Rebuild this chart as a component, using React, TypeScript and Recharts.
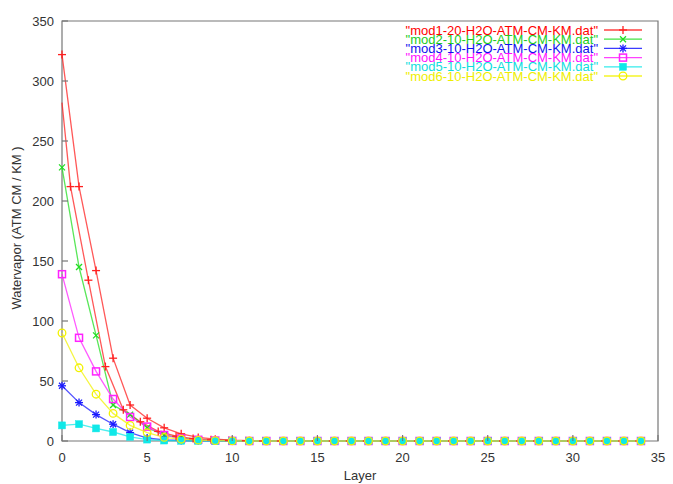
import React from 'react';
import { LineChart, Line, XAxis, YAxis, ReferenceArea, Legend } from 'recharts';

// Layer index (x) shared by most files
const layers = [
  0, 1, 2, 3, 4, 5, 6, 7, 8, 9, 10, 11, 12, 13, 14, 15, 16, 17,
  18, 19, 20, 21, 22, 23, 24, 25, 26, 27, 28, 29, 30, 31, 32, 33, 34,
];

// Water vapour per layer (ATM CM / KM)
const mod1 = [322, 212, 142, 69, 30, 19, 11, 6, 3, 1.5, 0.7, 0.3, 0.1, 0, 0, 0, 0, 0, 0, 0, 0, 0, 0, 0, 0, 0, 0, 0, 0, 0, 0, 0, 0, 0, 0];
const mod2 = [228, 145, 88, 30, 22, 11, 5, 2.5, 1, 0.5, 0.2, 0, 0, 0, 0, 0, 0, 0, 0, 0, 0, 0, 0, 0, 0, 0, 0, 0, 0, 0, 0, 0, 0, 0, 0];
const mod3 = [46, 32, 22, 14, 7, 2.5, 1, 0.4, 0.2, 0.1, 0, 0, 0, 0, 0, 0, 0, 0, 0, 0, 0, 0, 0, 0, 0, 0, 0, 0, 0, 0, 0, 0, 0, 0, 0];
const mod4 = [139, 86, 58, 35, 20, 12, 5, 2, 1, 0.4, 0.1, 0, 0, 0, 0, 0, 0, 0, 0, 0, 0, 0, 0, 0, 0, 0, 0, 0, 0, 0, 0, 0, 0, 0, 0];
const mod5 = [13, 14, 10.5, 7.5, 3.5, 1.2, 0.4, 0.2, 0.1, 0, 0, 0, 0, 0, 0, 0, 0, 0, 0, 0, 0, 0, 0, 0, 0, 0, 0, 0, 0, 0, 0, 0, 0, 0, 0];
const mod6 = [90, 61, 39, 23, 13, 7, 3, 1.5, 0.7, 0.3, 0.1, 0, 0, 0, 0, 0, 0, 0, 0, 0, 0, 0, 0, 0, 0, 0, 0, 0, 0, 0, 0, 0, 0, 0, 0];

// Second mod1 trace, sampled at shifted layer positions
const mod1bLayers = [
  0, 0.5, 1.55, 2.55, 3.6, 4.6, 5.65, 6.7, 7.7, 8.75, 9.8, 10.8, 11.8, 12.85, 13.9, 14.9, 15.9,
  16.9, 17.9, 18.9, 19.9, 20.9, 21.9, 22.9, 23.9, 24.9, 25.9, 26.9, 27.9, 28.9, 29.9, 30.9, 31.9, 32.9, 33.9,
];
const mod1b = [282, 212, 134, 62, 26, 16, 8, 4, 2, 1, 0.4, 0.2, 0, 0, 0, 0, 0, 0, 0, 0, 0, 0, 0, 0, 0, 0, 0, 0, 0, 0, 0, 0, 0, 0, 0];

const xTicks = [0, 5, 10, 15, 20, 25, 30, 35];
const yTicks = [0, 50, 100, 150, 200, 250, 300, 350];

const FONT = '"Liberation Sans", Arial, Helvetica, sans-serif';
const TICK_GAP_Y = 8;
const TICK_GAP_X = 16;
const AXIS_GREY = '#777';

type Shape = 'plus' | 'cross' | 'star' | 'box' | 'fbox' | 'circle';

const toPoints = (xs: number[], ys: number[]) => xs.map((x, i) => ({ x, y: ys[i] }));

type Series = {
  key: string;
  name: string;
  color: string;
  text: string;
  shape: Shape;
  data: { x: number; y: number }[];
  inLegend: boolean;
  skipFirstDot?: boolean;
};

const series: Series[] = [
  { key: 'mod1b', name: '"mod1-20-H2O-ATM-CM-KM.dat"', color: '#ff2020', text: '#ff0000', shape: 'plus', data: toPoints(mod1bLayers, mod1b), inLegend: false, skipFirstDot: true },
  { key: 'mod1', name: '"mod1-20-H2O-ATM-CM-KM.dat"', color: '#ff2020', text: '#ff0000', shape: 'plus', data: toPoints(layers, mod1), inLegend: true },
  { key: 'mod2', name: '"mod2-10-H2O-ATM-CM-KM.dat"', color: '#22dd22', text: '#22cc22', shape: 'cross', data: toPoints(layers, mod2), inLegend: true },
  { key: 'mod3', name: '"mod3-10-H2O-ATM-CM-KM.dat"', color: '#1a1aff', text: '#1010ee', shape: 'star', data: toPoints(layers, mod3), inLegend: true },
  { key: 'mod4', name: '"mod4-10-H2O-ATM-CM-KM.dat"', color: '#ff22ff', text: '#ff10ff', shape: 'box', data: toPoints(layers, mod4), inLegend: true },
  { key: 'mod5', name: '"mod5-10-H2O-ATM-CM-KM.dat"', color: '#10e8e8', text: '#10dddd', shape: 'fbox', data: toPoints(layers, mod5), inLegend: true },
  { key: 'mod6', name: '"mod6-10-H2O-ATM-CM-KM.dat"', color: '#f2f200', text: '#eeee00', shape: 'circle', data: toPoints(layers, mod6), inLegend: true },
];

function Marker({ cx, cy, shape, color }: { cx: number; cy: number; shape: Shape; color: string }) {
  if (cx == null || cy == null || isNaN(cx) || isNaN(cy)) return null;
  const sw = 1.3;
  switch (shape) {
    case 'plus':
      return (
        <g stroke={color} strokeWidth={sw}>
          <line x1={cx - 4} x2={cx + 4} y1={cy} y2={cy} />
          <line x1={cx} x2={cx} y1={cy - 4} y2={cy + 4} />
        </g>
      );
    case 'cross':
      return (
        <g stroke={color} strokeWidth={sw}>
          <line x1={cx - 3} x2={cx + 3} y1={cy - 3} y2={cy + 3} />
          <line x1={cx - 3} x2={cx + 3} y1={cy + 3} y2={cy - 3} />
        </g>
      );
    case 'star':
      return (
        <g stroke={color} strokeWidth={sw}>
          <line x1={cx - 4} x2={cx + 4} y1={cy} y2={cy} />
          <line x1={cx} x2={cx} y1={cy - 4} y2={cy + 4} />
          <line x1={cx - 3} x2={cx + 3} y1={cy - 3} y2={cy + 3} />
          <line x1={cx - 3} x2={cx + 3} y1={cy + 3} y2={cy - 3} />
        </g>
      );
    case 'box':
      return <rect x={cx - 3.5} y={cy - 3.5} width={7} height={7} fill="none" stroke={color} strokeWidth={1.5} />;
    case 'fbox':
      return <rect x={cx - 3.5} y={cy - 3.5} width={7} height={7} fill={color} stroke={color} strokeWidth={0.5} />;
    case 'circle':
      return <circle cx={cx} cy={cy} r={3.8} fill="none" stroke={color} strokeWidth={1.3} />;
  }
  return null;
}

function LeftTick(props: any) {
  const { x, y, payload } = props;
  const axisX = x + TICK_GAP_Y;
  return (
    <g>
      <line x1={axisX} x2={axisX + 6} y1={y} y2={y} stroke={AXIS_GREY} strokeWidth={1.2} />
      <text x={x} y={y} textAnchor="end" dominantBaseline="central" fontSize={13} fontFamily={FONT} fill="#333">
        {payload.value}
      </text>
    </g>
  );
}

function BottomTick(props: any) {
  const { x, y, payload } = props;
  const axisY = y - TICK_GAP_X;
  return (
    <g>
      <line x1={x} x2={x} y1={axisY} y2={axisY - 6} stroke={AXIS_GREY} strokeWidth={1.2} />
      <text x={x} y={y} textAnchor="middle" dominantBaseline="central" fontSize={13} fontFamily={FONT} fill="#333">
        {payload.value}
      </text>
    </g>
  );
}

function TopTick(props: any) {
  const { x, y } = props;
  return <line x1={x} x2={x} y1={y} y2={y + 6} stroke={AXIS_GREY} strokeWidth={1.2} />;
}

function RightTick(props: any) {
  const { x, y } = props;
  return <line x1={x} x2={x - 6} y1={y} y2={y} stroke={AXIS_GREY} strokeWidth={1.2} />;
}

function KeyBlock() {
  const rows = series.filter((s) => s.inLegend);
  return (
    <svg width={270} height={64} style={{ display: 'block', overflow: 'visible' }}>
      {rows.map((s, i) => {
        const cy = 8 + i * 9.2;
        return (
          <g key={s.key}>
            <text x={208} y={cy} textAnchor="end" dominantBaseline="central" fontSize={13} fontFamily={FONT} fill={s.text}>
              {s.name}
            </text>
            <line x1={214} x2={252} y1={cy} y2={cy} stroke={s.color} strokeWidth={1.3} strokeOpacity={0.85} />
            <Marker cx={233} cy={cy} shape={s.shape} color={s.color} />
          </g>
        );
      })}
    </svg>
  );
}

export default function App() {
  return (
    <div style={{ position: 'absolute', left: 0, top: 0, background: '#fff', fontFamily: FONT }}>
      <LineChart width={673} height={484} margin={{ top: 21, right: 15, bottom: 0, left: 0 }}>
        <XAxis
          dataKey="x"
          type="number"
          domain={[0, 35]}
          ticks={xTicks}
          interval={0}
          height={43}
          tickSize={0}
          tickLine={false}
          tickMargin={TICK_GAP_X}
          axisLine={false}
          tick={<BottomTick />}
          label={(p: any) => {
            const vb = p.viewBox;
            return (
              <text x={vb.x + vb.width / 2} y={vb.y + 34} textAnchor="middle" dominantBaseline="central" fontSize={13} fontFamily={FONT} fill="#333">
                Layer
              </text>
            );
          }}
        />
        <XAxis
          xAxisId="top"
          orientation="top"
          dataKey="x"
          type="number"
          domain={[0, 35]}
          ticks={xTicks}
          interval={0}
          height={0}
          tickSize={0}
          tickLine={false}
          tickMargin={0}
          axisLine={false}
          tick={<TopTick />}
        />
        <YAxis
          type="number"
          domain={[0, 350]}
          ticks={yTicks}
          interval={0}
          width={62}
          tickSize={0}
          tickLine={false}
          tickMargin={TICK_GAP_Y}
          axisLine={false}
          tick={<LeftTick />}
          label={(p: any) => {
            const vb = p.viewBox;
            const cx = vb.x + 16;
            const cy = vb.y + vb.height / 2 - 3;
            return (
              <text x={cx} y={cy} transform={`rotate(-90 ${cx} ${cy})`} textAnchor="middle" dominantBaseline="central" fontSize={13} fontFamily={FONT} fill="#333">
                Watervapor (ATM CM / KM )
              </text>
            );
          }}
        />
        <YAxis
          yAxisId="right"
          orientation="right"
          type="number"
          domain={[0, 350]}
          ticks={yTicks}
          interval={0}
          width={0}
          tickSize={0}
          tickLine={false}
          tickMargin={0}
          axisLine={false}
          tick={<RightTick />}
        />
        <ReferenceArea x1={0} x2={35} y1={0} y2={350} fill="none" stroke={AXIS_GREY} strokeWidth={1.2} />
        <Legend
          layout="vertical"
          align="center"
          verticalAlign="middle"
          content={() => <KeyBlock />}
          wrapperStyle={{ left: 390, top: 22, width: 270, height: 64 }}
        />
        {series.map((s) => (
          <Line
            key={s.key}
            data={s.data}
            dataKey="y"
            name={s.name}
            type="linear"
            stroke={s.color}
            strokeWidth={1.3}
            strokeOpacity={0.75}
            isAnimationActive={false}
            legendType="none"
            activeDot={false}
            dot={(p: any) =>
              s.skipFirstDot && p.index === 0 ? (
                <g key={`${s.key}-${p.index}`} />
              ) : (
                <Marker key={`${s.key}-${p.index}`} cx={p.cx} cy={p.cy} shape={s.shape} color={s.color} />
              )
            }
          />
        ))}
      </LineChart>
    </div>
  );
}
